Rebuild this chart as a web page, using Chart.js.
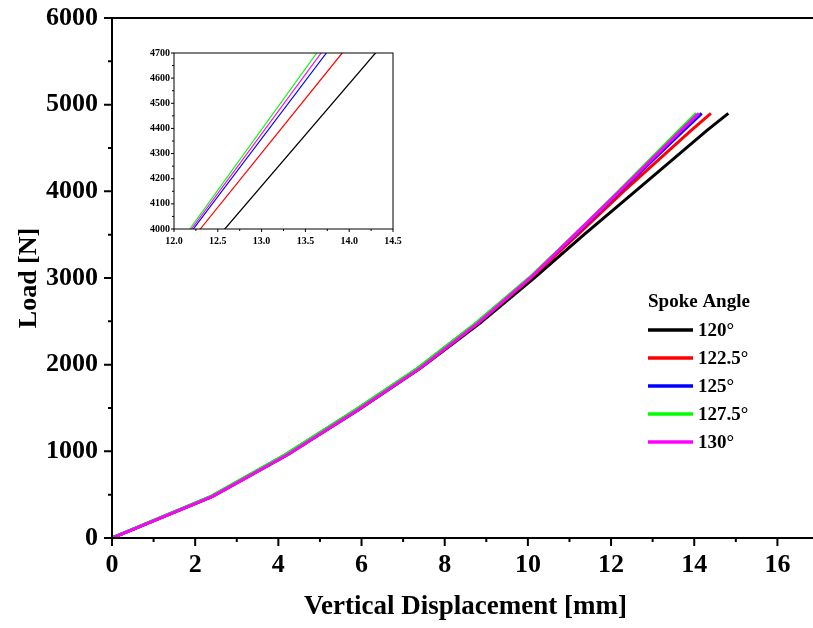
<!DOCTYPE html>
<html>
<head>
<meta charset="utf-8">
<script src="https://cdn.jsdelivr.net/npm/chart.js@4/dist/chart.umd.min.js"></script>
<style>
  html, body { margin: 0; padding: 0; background: #fff; }
  #wrap { position: relative; width: 813px; height: 628px; overflow: hidden; }
  #main { position: absolute; left: 0; top: 0; }
  #inset { position: absolute; left: 140px; top: 40px; }
</style>
</head>
<body>
<div id="wrap">
  <canvas id="main" width="835" height="628"></canvas>
  <canvas id="inset" width="265" height="215"></canvas>
</div>
<script>
// load steps shared by every spoke angle run
const loads = [0, 480, 960, 1480, 1960, 2480, 3000, 3500, 4000, 4700, 4900];

// vertical displacement (mm) for each spoke angle
const disp120 = [0, 2.42, 4.22, 5.93, 7.42, 8.85, 10.15, 11.35, 12.58, 14.30, 14.82];
const disp1225 = [0, 2.41, 4.20, 5.90, 7.40, 8.80, 10.07, 11.20, 12.30, 13.92, 14.40];
const disp125 = [0, 2.39, 4.17, 5.87, 7.36, 8.76, 10.04, 11.15, 12.22, 13.74, 14.18];
const disp1275 = [0, 2.38, 4.16, 5.86, 7.35, 8.75, 10.03, 11.12, 12.18, 13.63, 14.05];
const disp130 = [0, 2.42, 4.22, 5.92, 7.41, 8.80, 10.06, 11.13, 12.20, 13.68, 14.11];

const seriesLabels = ['120°', '122.5°', '125°', '127.5°', '130°'];
const seriesDisp = [disp120, disp1225, disp125, disp1275, disp130];
const seriesColors = ['#000000', '#ff0000', '#0000ff', '#00ff00', '#ff00ff'];
const legendTitle = 'Spoke Angle';

const xTitle = 'Vertical Displacement [mm]';
const yTitle = 'Load [N]';

const serif = '"Liberation Serif", "Times New Roman", serif';

function makeDatasets(width) {
    return seriesLabels.map(function(label, i) {
        return {
            label: label,
            data: seriesDisp[i].map(function(d, j) { return { x: d, y: loads[j] }; }),
            borderColor: seriesColors[i],
            backgroundColor: seriesColors[i],
            borderWidth: width,
            pointRadius: 0,
            tension: 0,
            fill: false,
            order: seriesLabels.length - 1 - i
        };
    });
}

function fixX(h) {
    return function(s) { s.height = h; s.paddingLeft = 0; s.paddingRight = 0; };
}
function fixY(w) {
    return function(s) { s.width = w; s.paddingTop = 0; s.paddingBottom = 0; };
}

// frame + major/minor tick marks pointing outwards
const axisTicks = {
    id: 'axisTicks',
    afterDraw(chart, args, o) {
        const ctx = chart.ctx;
        const a = chart.chartArea;
        const xs = chart.scales.x, ys = chart.scales.y;
        ctx.save();
        ctx.strokeStyle = '#000';
        ctx.lineWidth = o.width;
        ctx.strokeRect(a.left, a.top, a.right - a.left, a.bottom - a.top);
        ctx.beginPath();
        const nx = Math.round((xs.max - xs.min) / o.xMinor);
        for (let i = 0; i <= nx; i++) {
            const v = xs.min + i * o.xMinor;
            const r = v / o.xMajor;
            const len = Math.abs(r - Math.round(r)) < 1e-6 ? o.len : o.minorLen;
            const px = xs.getPixelForValue(v);
            ctx.moveTo(px, a.bottom);
            ctx.lineTo(px, a.bottom + len);
        }
        const ny = Math.round((ys.max - ys.min) / o.yMinor);
        for (let i = 0; i <= ny; i++) {
            const v = ys.min + i * o.yMinor;
            const r = v / o.yMajor;
            const len = Math.abs(r - Math.round(r)) < 1e-6 ? o.len : o.minorLen;
            const py = ys.getPixelForValue(v);
            ctx.moveTo(a.left, py);
            ctx.lineTo(a.left - len, py);
        }
        ctx.stroke();
        ctx.restore();
    }
};

const spokeLegend = {
    id: 'spokeLegend',
    afterDraw(chart, args, o) {
        if (!o.show) return;
        const ctx = chart.ctx;
        ctx.save();
        ctx.fillStyle = '#000';
        ctx.textBaseline = 'middle';
        ctx.textAlign = 'left';
        ctx.font = 'bold 19px ' + serif;
        ctx.fillText(legendTitle, o.x, o.y);
        chart.data.datasets.forEach(function(ds, i) {
            const y = o.y + o.gap * (i + 1);
            ctx.strokeStyle = ds.borderColor;
            ctx.lineWidth = 3.5;
            ctx.beginPath();
            ctx.moveTo(o.x, y);
            ctx.lineTo(o.x + 45, y);
            ctx.stroke();
            ctx.fillText(ds.label, o.x + 50, y + 1);
        });
        ctx.restore();
    }
};

new Chart(document.getElementById('main').getContext('2d'), {
    type: 'line',
    data: { datasets: makeDatasets(3) },
    plugins: [axisTicks, spokeLegend],
    options: {
        responsive: false,
        animation: false,
        layout: { padding: { top: 18, right: 16, left: 0, bottom: 0 } },
        plugins: {
            legend: { display: false },
            tooltip: { enabled: false },
            axisTicks: { width: 2, len: 8, minorLen: 4, xMajor: 2, xMinor: 1, yMajor: 1000, yMinor: 500 },
            spokeLegend: { show: true, x: 648, y: 302, gap: 28 }
        },
        scales: {
            x: {
                type: 'linear',
                min: 0,
                max: 17,
                afterFit: fixX(90),
                grid: { display: false, drawTicks: false },
                border: { display: false },
                ticks: {
                    stepSize: 1,
                    autoSkip: false,
                    maxRotation: 0,
                    padding: 12,
                    color: '#000',
                    font: { family: serif, size: 26, weight: 'bold' },
                    callback: function(v) { return v % 2 === 0 ? String(v) : ''; }
                },
                title: {
                    display: true,
                    text: xTitle,
                    color: '#000',
                    font: { family: serif, size: 27, weight: 'bold' },
                    padding: { top: 0, bottom: 5 }
                }
            },
            y: {
                min: 0,
                max: 6000,
                afterFit: fixY(112),
                grid: { display: false, drawTicks: false },
                border: { display: false },
                ticks: {
                    stepSize: 500,
                    autoSkip: false,
                    padding: 14,
                    color: '#000',
                    font: { family: serif, size: 26, weight: 'bold' },
                    callback: function(v) { return v % 1000 === 0 ? String(v) : ''; }
                },
                title: {
                    display: true,
                    text: yTitle,
                    color: '#000',
                    font: { family: serif, size: 26, weight: 'bold' },
                    padding: { top: 14, bottom: 0 }
                }
            }
        }
    }
});

new Chart(document.getElementById('inset').getContext('2d'), {
    type: 'line',
    data: { datasets: makeDatasets(1.2) },
    plugins: [axisTicks],
    options: {
        responsive: false,
        animation: false,
        layout: { padding: { top: 13, right: 12, left: 0, bottom: 0 } },
        plugins: {
            legend: { display: false },
            tooltip: { enabled: false },
            axisTicks: { width: 1, len: 3, minorLen: 2, xMajor: 0.5, xMinor: 0.25, yMajor: 100, yMinor: 50 }
        },
        scales: {
            x: {
                type: 'linear',
                min: 12,
                max: 14.5,
                afterFit: fixX(26),
                grid: { display: false, drawTicks: false },
                border: { display: false },
                ticks: {
                    stepSize: 0.5,
                    autoSkip: false,
                    maxRotation: 0,
                    padding: 6,
                    color: '#000',
                    font: { family: serif, size: 10, weight: 'bold' },
                    callback: function(v) { return v.toFixed(1); }
                }
            },
            y: {
                min: 4000,
                max: 4700,
                afterFit: fixY(34),
                grid: { display: false, drawTicks: false },
                border: { display: false },
                ticks: {
                    stepSize: 100,
                    autoSkip: false,
                    padding: 4,
                    color: '#000',
                    font: { family: serif, size: 10, weight: 'bold' },
                    callback: function(v) { return String(v); }
                }
            }
        }
    }
});
</script>
</body>
</html>
